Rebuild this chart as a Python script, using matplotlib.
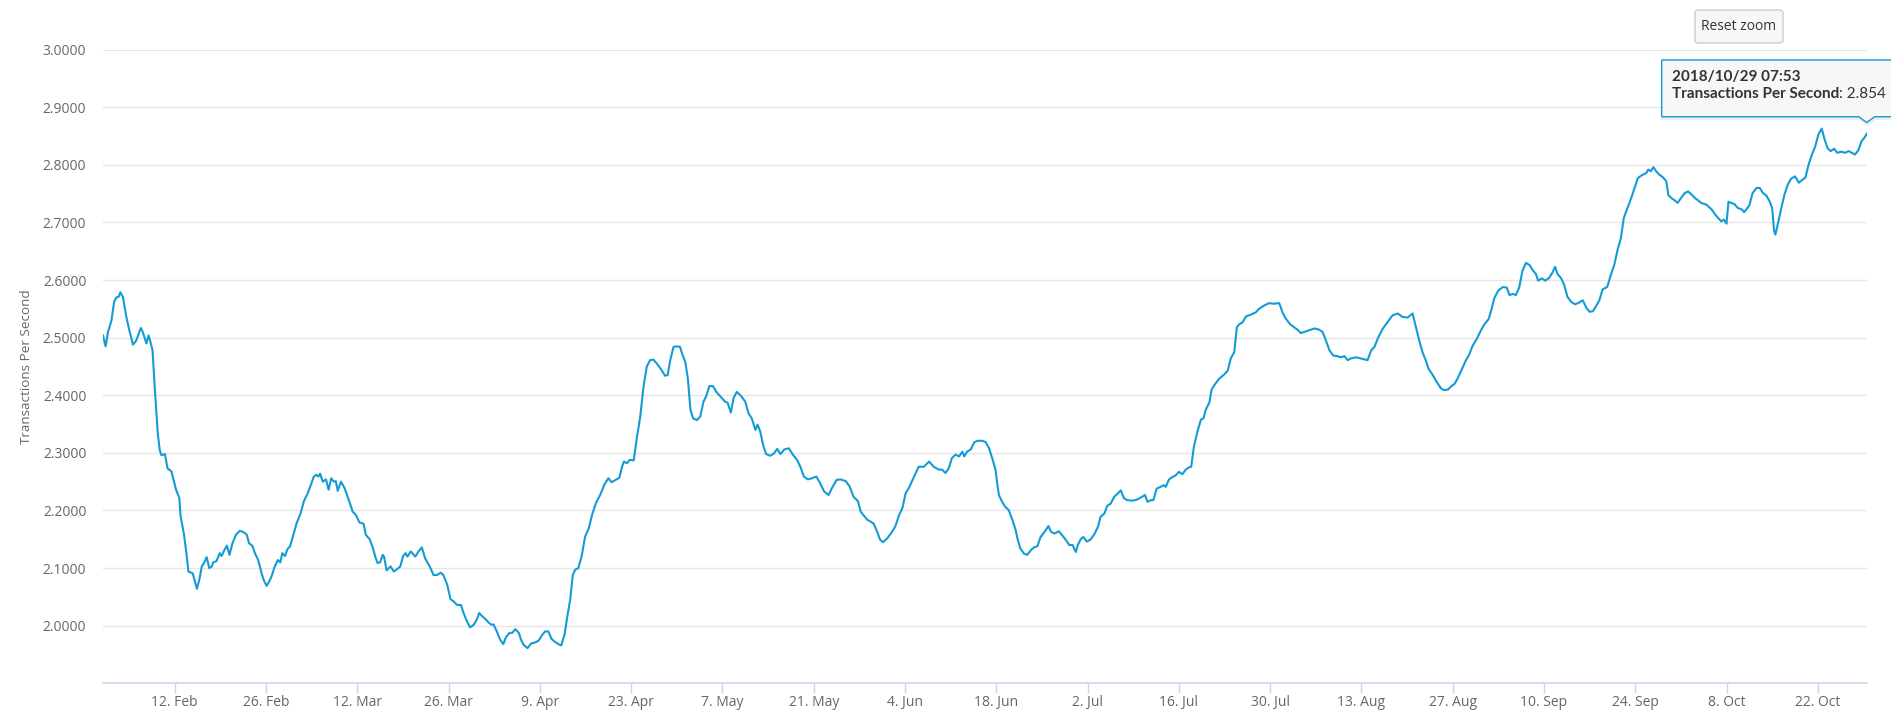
import matplotlib
matplotlib.use("Agg")
import matplotlib.pyplot as plt
from matplotlib.patches import Polygon, FancyBboxPatch
from matplotlib.transforms import IdentityTransform
import pandas as pd

# data: days since 2018-02-01 and TPS value
start = pd.Timestamp("2018-02-01")
day_offset = [
    0.0, 0.4, 0.77, 1.3, 1.7, 2.05, 2.4, 2.66, 3.07, 3.58, 4.1, 4.6, 5.1, 5.8, 6.1, 6.65,
    7.0, 7.27, 7.6, 7.93, 8.2, 8.4, 8.7, 8.96, 9.5, 9.9, 10.5, 11.2, 11.7, 11.9, 12.4, 12.8,
    13.1, 13.76, 14.4, 14.8, 15.15, 15.5, 15.9, 16.3, 16.7, 16.9, 17.4, 17.9, 18.2, 18.6,
    19.0, 19.4, 19.85, 20.4, 21.0, 21.6, 22.05, 22.4, 22.9, 23.3, 23.8, 24.4, 24.7, 25.1,
    25.5, 25.9, 26.25, 26.8, 27.2, 27.5, 27.9, 28.3, 28.7, 29.2, 29.7, 30.3, 30.8, 31.4,
    31.9, 32.3, 32.7, 33.05, 33.3, 33.7, 34.2, 34.6, 35.0, 35.4, 35.7, 36.0, 36.5, 37.05,
    37.7, 38.3, 38.8, 39.35, 39.97, 40.3, 40.9, 41.4, 41.75, 42.1, 42.5, 42.9, 43.1, 43.5,
    44.1, 44.6, 45.1, 45.6, 46.0, 46.4, 46.7, 47.2, 47.9, 48.4, 48.9, 49.4, 50.1, 50.7,
    51.2, 51.8, 52.2, 52.8, 53.3, 53.8, 54.3, 54.9, 55.3, 55.8, 56.3, 56.9, 57.3, 57.7,
    58.1, 58.6, 59.1, 59.5, 59.9, 60.4, 60.9, 61.4, 61.8, 62.3, 62.8, 63.25, 63.8, 64.1,
    64.5, 65.1, 65.65, 66.3, 66.8, 67.3, 67.8, 68.3, 68.8, 69.3, 70.0, 70.3, 70.8, 71.2,
    71.65, 72.05, 72.4, 72.9, 73.4, 73.95, 74.5, 75.0, 75.6, 76.25, 76.9, 77.5, 78.0, 78.6,
    79.2, 79.6, 79.9, 80.35, 80.8, 81.4, 81.9, 82.4, 82.9, 83.4, 83.9, 84.4, 84.95, 85.6,
    86.2, 86.6, 87.0, 87.5, 88.0, 88.5, 88.8, 89.3, 89.7, 90.1, 90.5, 91.1, 91.6, 92.1,
    92.5, 93.0, 93.55, 94.06, 94.7, 95.4, 95.8, 96.3, 96.7, 97.2, 97.85, 98.5, 99.0, 99.5,
    100.05, 100.4, 100.8, 101.3, 101.7, 102.35, 102.9, 103.4, 103.9, 104.5, 105.2, 105.8,
    106.45, 106.95, 107.5, 108.1, 108.75, 109.4, 110.0, 110.6, 111.3, 111.8, 112.5, 113.1,
    113.9, 114.5, 115.1, 115.8, 116.2, 116.7, 117.2, 117.7, 118.2, 118.7, 119.2, 119.65,
    120.3, 120.9, 121.5, 122.1, 122.6, 123.1, 123.6, 124.4, 125.1, 125.9, 126.7, 127.4,
    128.2, 128.7, 129.2, 129.7, 130.2, 130.75, 131.3, 131.8, 132.1, 132.5, 133.1, 133.6,
    134.1, 134.85, 135.35, 135.9, 136.4, 136.9, 137.15, 137.4, 137.9, 138.4, 138.9, 139.5,
    139.97, 140.3, 140.7, 141.25, 141.75, 142.3, 142.8, 143.3, 143.8, 144.4, 145.0, 145.4,
    145.95, 146.6, 147.1, 147.6, 148.2, 148.7, 149.2, 149.5, 149.95, 150.35, 150.9, 151.5,
    152.1, 152.6, 153.0, 153.6, 154.0, 154.55, 155.1, 155.6, 156.1, 156.6, 157.1, 157.9,
    158.6, 159.4, 159.8, 160.2, 160.7, 161.1, 161.6, 162.2, 162.7, 163.0, 163.5, 164.0,
    164.5, 165.0, 165.55, 166.05, 166.6, 166.9, 167.3, 167.9, 168.4, 168.8, 169.1, 169.7,
    170.0, 170.4, 171.2, 171.95, 172.5, 172.97, 173.5, 173.9, 174.25, 174.8, 175.3, 176.05,
    176.8, 177.3, 178.1, 178.85, 179.6, 180.4, 180.9, 181.4, 182.1, 182.7, 183.3, 183.7,
    184.2, 185.0, 185.8, 186.5, 187.05, 187.6, 188.1, 188.7, 189.25, 189.9, 190.4, 190.9,
    191.4, 192.2, 192.9, 193.95, 194.5, 195.0, 195.6, 196.3, 197.0, 197.8, 198.6, 199.3,
    200.1, 200.85, 201.4, 201.9, 202.4, 202.9, 203.3, 203.9, 204.4, 205.2, 205.7, 206.3,
    206.8, 207.3, 207.8, 208.4, 209.0, 209.55, 210.06, 210.7, 211.3, 211.85, 212.5, 212.9,
    213.4, 214.0, 214.7, 215.3, 215.7, 216.2, 216.7, 217.2, 217.7, 218.25, 218.8, 219.3,
    219.8, 220.1, 220.7, 221.2, 221.8, 222.3, 222.7, 223.1, 223.6, 224.1, 224.6, 225.2,
    225.8, 226.4, 226.95, 227.5, 228.0, 228.5, 229.0, 229.5, 230.0, 230.7, 231.2, 231.8,
    232.3, 232.8, 233.25, 233.75, 234.4, 234.9, 235.4, 236.0, 236.7, 237.0, 237.4, 237.8,
    238.2, 238.7, 239.2, 239.75, 240.1, 240.6, 241.1, 241.5, 242.05, 242.6, 243.1, 243.6,
    244.1, 244.7, 245.1, 245.9, 246.7, 247.2, 247.7, 248.2, 248.6, 249.0, 249.3, 249.7,
    250.2, 250.75, 251.3, 251.7, 252.2, 252.5, 253.0, 253.6, 254.1, 254.6, 255.1, 255.6,
    256.0, 256.3, 256.5, 256.9, 257.4, 257.9, 258.4, 258.9, 259.5, 260.1, 260.5, 261.1,
    261.6, 262.1, 262.6, 263.1, 263.6, 264.05, 264.5, 264.97, 265.5, 266.0, 266.6, 267.2,
    267.7, 268.25, 268.7, 269.2, 269.7, 270.2, 270.5,
]
tps = [
    2.504, 2.485, 2.51, 2.53, 2.562, 2.57, 2.571, 2.579, 2.57, 2.536, 2.51, 2.488, 2.495, 2.517, 2.51, 2.49,
    2.504, 2.493, 2.478, 2.414, 2.368, 2.334, 2.305, 2.296, 2.298, 2.273, 2.268, 2.236, 2.222, 2.19, 2.16, 2.125,
    2.094, 2.091, 2.064, 2.081, 2.103, 2.109, 2.119, 2.1, 2.103, 2.11, 2.112, 2.126, 2.121, 2.131,
    2.139, 2.123, 2.143, 2.158, 2.165, 2.162, 2.158, 2.143, 2.139, 2.126, 2.114, 2.088, 2.078, 2.069,
    2.077, 2.087, 2.1, 2.114, 2.11, 2.126, 2.121, 2.133, 2.138, 2.158, 2.178, 2.195, 2.216, 2.23,
    2.245, 2.258, 2.262, 2.259, 2.264, 2.25, 2.254, 2.236, 2.256, 2.25, 2.251, 2.234, 2.25, 2.239,
    2.218, 2.198, 2.192, 2.179, 2.177, 2.158, 2.15, 2.135, 2.12, 2.109, 2.11, 2.123, 2.12, 2.096,
    2.103, 2.094, 2.098, 2.103, 2.12, 2.126, 2.12, 2.129, 2.12, 2.129, 2.136, 2.117, 2.103, 2.088,
    2.088, 2.092, 2.088, 2.071, 2.046, 2.042, 2.036, 2.036, 2.022, 2.008, 1.997, 2.002, 2.01, 2.022,
    2.017, 2.012, 2.006, 2.002, 2.002, 1.99, 1.976, 1.968, 1.98, 1.987, 1.988, 1.994, 1.987, 1.976,
    1.967, 1.961, 1.969, 1.971, 1.974, 1.983, 1.99, 1.99, 1.977, 1.972, 1.967, 1.966, 1.985, 2.015,
    2.045, 2.088, 2.097, 2.1, 2.12, 2.155, 2.169, 2.192, 2.213, 2.227, 2.245, 2.256, 2.249, 2.253,
    2.257, 2.276, 2.285, 2.282, 2.288, 2.287, 2.328, 2.363, 2.415, 2.45, 2.461, 2.462, 2.455, 2.445,
    2.434, 2.435, 2.461, 2.484, 2.485, 2.484, 2.473, 2.458, 2.429, 2.375, 2.36, 2.357, 2.363, 2.389,
    2.398, 2.416, 2.416, 2.406, 2.398, 2.389, 2.387, 2.37, 2.395, 2.406, 2.399, 2.389, 2.369, 2.36,
    2.34, 2.349, 2.337, 2.311, 2.298, 2.295, 2.299, 2.307, 2.298, 2.306, 2.308, 2.297,
    2.288, 2.276, 2.259, 2.254, 2.256, 2.259, 2.247, 2.233, 2.227, 2.239, 2.253, 2.254,
    2.251, 2.242, 2.224, 2.216, 2.198, 2.191, 2.184, 2.181, 2.177, 2.164, 2.149, 2.145,
    2.152, 2.161, 2.172, 2.192, 2.204, 2.23, 2.239, 2.259, 2.276, 2.276, 2.285, 2.276,
    2.271, 2.271, 2.265, 2.273, 2.291, 2.297, 2.294, 2.302, 2.294, 2.302, 2.306, 2.318,
    2.321, 2.321, 2.319, 2.308, 2.29, 2.27, 2.247, 2.227, 2.215, 2.206, 2.201, 2.183,
    2.166, 2.149, 2.134, 2.125, 2.123, 2.131, 2.136, 2.138, 2.154, 2.163, 2.173, 2.163,
    2.16, 2.164, 2.157, 2.15, 2.14, 2.14, 2.128, 2.14, 2.15, 2.154, 2.146, 2.15,
    2.16, 2.172, 2.189, 2.195, 2.208, 2.212, 2.224, 2.229, 2.235, 2.221, 2.218, 2.217,
    2.219, 2.224, 2.227, 2.215, 2.218, 2.218, 2.238, 2.241, 2.244, 2.241, 2.254, 2.258,
    2.261, 2.267, 2.263, 2.271, 2.275, 2.276, 2.31, 2.339, 2.358, 2.36, 2.374, 2.388,
    2.409, 2.417, 2.429, 2.436, 2.443, 2.464, 2.475, 2.518, 2.523, 2.527, 2.537, 2.54,
    2.544, 2.55, 2.556, 2.56, 2.559, 2.56, 2.544, 2.533, 2.523, 2.518, 2.513, 2.508,
    2.51, 2.513, 2.516, 2.514, 2.51, 2.494, 2.478, 2.469, 2.468, 2.466, 2.468, 2.461,
    2.464, 2.466, 2.464, 2.461, 2.478, 2.484, 2.501, 2.516, 2.527, 2.539, 2.542, 2.536,
    2.535, 2.542, 2.517, 2.494, 2.474, 2.46, 2.446, 2.436, 2.426, 2.412, 2.409, 2.41,
    2.416, 2.42, 2.43, 2.445, 2.46, 2.471, 2.486, 2.498, 2.512, 2.523, 2.532, 2.547,
    2.569, 2.582, 2.588, 2.587, 2.574, 2.576, 2.574, 2.587, 2.616, 2.63, 2.626, 2.617,
    2.61, 2.599, 2.603, 2.599, 2.604, 2.613, 2.623, 2.61, 2.604, 2.592, 2.571, 2.562,
    2.558, 2.561, 2.565, 2.552, 2.545, 2.546, 2.555, 2.565, 2.584, 2.588, 2.607, 2.627,
    2.653, 2.673, 2.708, 2.723, 2.743, 2.76, 2.777, 2.782, 2.786, 2.792, 2.789, 2.796,
    2.789, 2.783, 2.779, 2.772, 2.747, 2.742, 2.738, 2.734, 2.743, 2.751, 2.754, 2.749,
    2.743, 2.738, 2.734, 2.731, 2.723, 2.715, 2.708, 2.702, 2.705, 2.698, 2.736, 2.734,
    2.732, 2.725, 2.723, 2.718, 2.725, 2.73, 2.751, 2.76, 2.76, 2.751, 2.747, 2.737,
    2.725, 2.685, 2.679, 2.699, 2.725, 2.749, 2.766, 2.776, 2.78, 2.769, 2.773, 2.778,
    2.801, 2.818, 2.832, 2.853, 2.863, 2.844, 2.829, 2.824, 2.828, 2.821, 2.823, 2.821,
    2.824, 2.821, 2.818, 2.825, 2.841, 2.848, 2.854,
]
tick_dates = pd.date_range("2018-02-12", "2018-10-22", freq="14D")
y_ticks = [2.0, 2.1, 2.2, 2.3, 2.4, 2.5, 2.6, 2.7, 2.8, 2.9, 3.0]
tooltip_time = "2018/10/29 07:53"
tooltip_value = 2.854
series_name = "Transactions Per Second"

W, H = 1891, 726
line_blue = "#149bd6"
grey_txt = "#666666"

plt.rcParams["font.family"] = ["Open Sans", "DejaVu Sans"]
fig = plt.figure(figsize=(W / 100, H / 100), dpi=100, facecolor="white")

# plot area in pixel terms, converted to figure fractions
left, right, top, bottom = 103, 1866.7, 49.7, 683.3
ax = fig.add_axes([left / W, 1 - bottom / H, (right - left) / W, (bottom - top) / H])

x = (start + pd.to_timedelta(day_offset, unit="D")).to_pydatetime()
ax.plot(x, tps, color=line_blue, lw=1.5, solid_joinstyle="round", zorder=3)

ax.set_xlim(start.to_pydatetime(), (start + pd.Timedelta(days=270.5)).to_pydatetime())
ax.set_ylim(1.9, 3.0)

ax.set_yticks(y_ticks)
ax.set_yticklabels([f"{v:.4f}" for v in y_ticks])
ax.set_xticks(tick_dates.to_pydatetime())
ax.set_xticklabels([f"{d.day}. {d:%b}" for d in tick_dates])

ax.grid(axis="y", color="#e6e6e6", lw=1)
ax.grid(axis="x", visible=False)
ax.set_axisbelow(True)
for s in ["left", "right", "top"]:
    ax.spines[s].set_visible(False)
ax.spines["bottom"].set_color("#ccd6eb")
ax.spines["bottom"].set_linewidth(1.2)

ax.tick_params(axis="y", length=0, pad=12, labelcolor=grey_txt, labelsize=10)
ax.tick_params(axis="x", length=7.2, width=1, color="#ccd6eb", pad=1,
               labelcolor=grey_txt, labelsize=10)

fig.text(27 / W, 1 - 366.5 / H, series_name, rotation=90, ha="center", va="center",
         color=grey_txt, fontsize=9.7)

px = IdentityTransform()

# Reset zoom button
btn = FancyBboxPatch((1695, H - 43), 88, 33, boxstyle="round,pad=0,rounding_size=3",
                     fc="#f7f7f7", ec="#cccccc", lw=1, transform=px)
fig.add_artist(btn)
fig.text(1739 / W, 1 - 26.5 / H, "Reset zoom", ha="center", va="center",
         color="#333333", fontsize=10)

# tooltip callout
bx0, by0, by1, tip_x, tip_y = 1661.7, 60, 116.7, 1866.7, 122.5
pts = [(bx0, by0), (W + 5, by0), (W + 5, by1), (tip_x + 8, by1), (tip_x, tip_y),
       (tip_x - 8, by1), (bx0, by1)]
shadow = Polygon([(a + 1, H - b - 1) for a, b in pts], closed=True, fc="none",
                 ec=(0, 0, 0, 0.08), lw=3, transform=px)
fig.add_artist(shadow)
tip = Polygon([(a, H - b) for a, b in pts], closed=True, fc=(0.97, 0.97, 0.97, 0.9),
              ec=line_blue, lw=1, transform=px)
fig.add_artist(tip)

tip_font = ["Lato", "DejaVu Sans"]
fig.text(1671.7 / W, 1 - 77 / H, tooltip_time, ha="left", va="center",
         color="#333333", fontsize=11, fontweight="bold", family=tip_font)
name_txt = fig.text(1671.7 / W, 1 - 93.5 / H, series_name, ha="left", va="center",
                    color="#333333", fontsize=11, fontweight="bold", family=tip_font)
fig.canvas.draw()
bb = name_txt.get_window_extent()
fig.text(bb.x1 / W, 1 - 93.5 / H, f": {tooltip_value}", ha="left", va="center",
         color="#333333", fontsize=11, family=tip_font)

fig.savefig("out.png", dpi=100, facecolor="white")
